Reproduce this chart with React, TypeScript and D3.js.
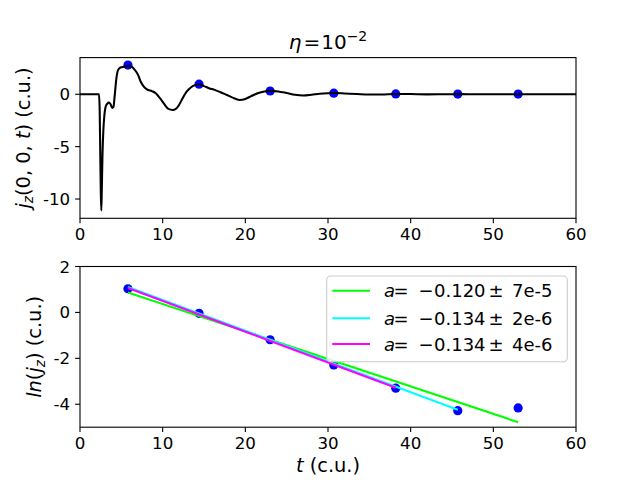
import React from "react";
import * as d3 from "d3";

// ---------- data ----------
const curveT = [0, 2.3, 2.38, 2.45, 2.52, 2.58, 2.64, 2.72, 2.82, 2.95, 3.1, 3.3, 3.5, 3.7, 3.9, 4.05, 4.2, 4.4, 4.6, 4.9, 5.3, 5.8, 6.2, 6.5, 6.8, 7.05, 7.35, 7.65, 8.1, 8.7, 9.2, 9.7, 10.2, 10.7, 11.2, 11.6, 12.0, 12.4, 12.9, 13.4, 13.9, 14.4, 15.0, 15.6, 16.3, 17.0, 17.7, 18.4, 19.3, 20.0, 20.7, 21.5, 22.3, 23.0, 24.0, 25.0, 26.0, 27.0, 28.0, 29.0, 30.0, 30.8, 32.0, 33.5, 35.0, 36.5, 38.2, 40.0, 42.0, 44.0, 46.0, 48.0, 50.0, 53.0, 56.0, 60.0];
const curveJ = [0, 0, -1.5, -5.5, -9.5, -11.1, -9.0, -5.8, -3.5, -2.0, -1.2, -0.9, -0.8, -0.95, -1.3, -1.2, -0.1, 1.5, 2.3, 2.55, 2.62, 2.72, 2.66, 2.45, 2.15, 1.8, 1.2, 0.8, 0.47, 0.3, 0.08, -0.4, -0.95, -1.4, -1.5, -1.4, -1.0, -0.4, 0.25, 0.65, 0.87, 0.95, 0.78, 0.58, 0.42, 0.2, -0.05, -0.3, -0.55, -0.45, -0.18, 0.1, 0.27, 0.32, 0.27, 0.12, -0.05, -0.12, -0.05, 0.05, 0.1, 0.12, 0.08, 0.02, -0.03, -0.02, 0.03, 0.02, -0.01, 0, 0.01, 0, 0, 0.005, 0, 0];

const peakT = [5.8, 14.4, 23.0, 30.7, 38.2, 45.7, 53.0];
const peakJ = [2.79, 0.96, 0.31, 0.1, 0.037, 0.014, 0.016];
const peakLnJ = [1.03, -0.04, -1.19, -2.29, -3.3, -4.28, -4.16];

const fitStartLn = [0.87, 1.11, 1.06];
const fitEndLn = [-4.78, -4.24, -3.28];
const fitEndIndex = [6, 5, 4];
const fitColors = ["#00ff00", "#00ffff", "#ff00ff"];
const fitSlopeText = ["0.120", "0.134", "0.134"];
const fitErrText = ["7e-5", "2e-6", "4e-6"];

const xTicks = [0, 10, 20, 30, 40, 50, 60];
const topYTicks = [0, -5, -10];
const bottomYTicks = [2, 0, -2, -4];

// ---------- layout ----------
const W = 640, H = 480;
const L = 80, R = 576;
const topY0 = 57.6, topY1 = 218.3;
const botY0 = 266.5, botY1 = 427.2;
const FONT = "'DejaVu Sans', sans-serif";
const TICK_FS = 16.67;

const xScaleTop = d3.scaleLinear().domain([0, 60]).range([L, R]);
const xScaleBot = d3.scaleLinear().domain([0, 60]).range([L, R]);
const yScaleTop = d3.scaleLinear().domain([-11.84, 3.5]).range([topY1, topY0]);
const yScaleBot = d3.scaleLinear().domain([-5, 2]).range([botY1, botY0]);

function fmt(v: number) {
  return String(v); // plain hyphen-minus as in the reference
}

function Axes({ x, y, y0, y1, yTicks }: { x: d3.ScaleLinear<number, number>; y: d3.ScaleLinear<number, number>; y0: number; y1: number; yTicks: number[] }) {
  return (
    <g>
      <rect x={L} y={y0} width={R - L} height={y1 - y0} fill="none" stroke="#000" strokeWidth={1.1} />
      {xTicks.map((t) => (
        <g key={"x" + t}>
          <line x1={x(t)} x2={x(t)} y1={y1} y2={y1 + 4.9} stroke="#000" strokeWidth={1.1} />
          <text x={x(t)} y={y1 + 21.6} textAnchor="middle" fontSize={TICK_FS} fontFamily={FONT}>{fmt(t)}</text>
        </g>
      ))}
      {yTicks.map((t) => (
        <g key={"y" + t}>
          <line x1={L - 4.9} x2={L} y1={y(t)} y2={y(t)} stroke="#000" strokeWidth={1.1} />
          <text x={L - 9.8} y={y(t) + 6} textAnchor="end" fontSize={TICK_FS} fontFamily={FONT}>{fmt(t)}</text>
        </g>
      ))}
    </g>
  );
}

export default function App() {
  const line = d3
    .line<number>()
    .x((_, i) => xScaleTop(curveT[i]))
    .y((d) => yScaleTop(d))
    .curve(d3.curveMonotoneX);
  const pathD = line(curveJ) || "";

  const legX = 326.7, legY = 276, legW = 240.6, legH = 85.7;
  const rowY = [290.7, 318.3, 344];
  const tx = 384;
  const LFS = 18;

  return (
    <svg width={W} height={H} style={{ position: "fixed", left: 0, top: 0, background: "#fff" }} fontFamily={FONT}>
      <rect x={0} y={0} width={W} height={H} fill="#fff" />
      {/* title */}
      <text x={328} y={49.3} textAnchor="middle" fontSize={20} fontFamily={FONT}>
        <tspan fontStyle="italic">η</tspan>
        <tspan dx={2}>=</tspan>
        <tspan dx={1}>10</tspan>
        <tspan dy={-8.5} fontSize={14}>−2</tspan>
      </text>

      {/* top panel */}
      <Axes x={xScaleTop} y={yScaleTop} y0={topY0} y1={topY1} yTicks={topYTicks} />
      {peakT.map((t, i) => (
        <circle key={"tp" + i} cx={xScaleTop(t)} cy={yScaleTop(peakJ[i])} r={4.6} fill="#0000ff" />
      ))}
      <path d={pathD} fill="none" stroke="#000" strokeWidth={2.08} strokeLinejoin="round" />

      <text transform={`translate(29.5,${(topY0 + topY1) / 2}) rotate(-90)`} textAnchor="middle" fontSize={19.4} fontFamily={FONT}>
        <tspan fontStyle="italic">j</tspan>
        <tspan fontStyle="italic" fontSize={13.6} dy={3.5}>z</tspan>
        <tspan dy={-3.5}>(0, 0, </tspan>
        <tspan fontStyle="italic">t</tspan>
        <tspan>) (c.u.)</tspan>
      </text>

      {/* bottom panel */}
      <Axes x={xScaleBot} y={yScaleBot} y0={botY0} y1={botY1} yTicks={bottomYTicks} />
      {peakT.map((t, i) => (
        <circle key={"bp" + i} cx={xScaleBot(t)} cy={yScaleBot(peakLnJ[i])} r={4.6} fill="#0000ff" />
      ))}
      {fitColors.map((c, k) => (
        <line
          key={"fit" + k}
          x1={xScaleBot(peakT[0])}
          y1={yScaleBot(fitStartLn[k])}
          x2={xScaleBot(peakT[fitEndIndex[k]])}
          y2={yScaleBot(fitEndLn[k])}
          stroke={c}
          strokeWidth={2.08}
        />
      ))}

      <text transform={`translate(41,${(botY0 + botY1) / 2}) rotate(-90)`} textAnchor="middle" fontSize={19.4} fontFamily={FONT}>
        <tspan fontStyle="italic">ln</tspan>
        <tspan>(</tspan>
        <tspan fontStyle="italic">j</tspan>
        <tspan fontStyle="italic" fontSize={13.6} dy={3.5}>z</tspan>
        <tspan dy={-3.5}>) (c.u.)</tspan>
      </text>

      <text x={328} y={472} textAnchor="middle" fontSize={19.4} fontFamily={FONT}>
        <tspan fontStyle="italic">t</tspan>
        <tspan> (c.u.)</tspan>
      </text>

      {/* legend */}
      <rect x={legX} y={legY} width={legW} height={legH} rx={4} ry={4} fill="#fff" fillOpacity={0.8} stroke="#cccccc" strokeWidth={1.1} />
      {fitColors.map((c, k) => (
        <g key={"leg" + k}>
          <line x1={332.3} x2={370} y1={rowY[k]} y2={rowY[k]} stroke={c} strokeWidth={2.08} />
          <text y={rowY[k] + 6.5} fontSize={LFS} fontFamily={FONT}>
            <tspan x={tx} fontStyle="italic">a</tspan>
            <tspan x={tx + 9.5}>=</tspan>
            <tspan x={tx + 34.5}>−</tspan>
            <tspan x={tx + 50}>{fitSlopeText[k]}</tspan>
            <tspan x={tx + 104.5}>±</tspan>
            <tspan x={tx + 128}>{fitErrText[k]}</tspan>
          </text>
        </g>
      ))}
    </svg>
  );
}
